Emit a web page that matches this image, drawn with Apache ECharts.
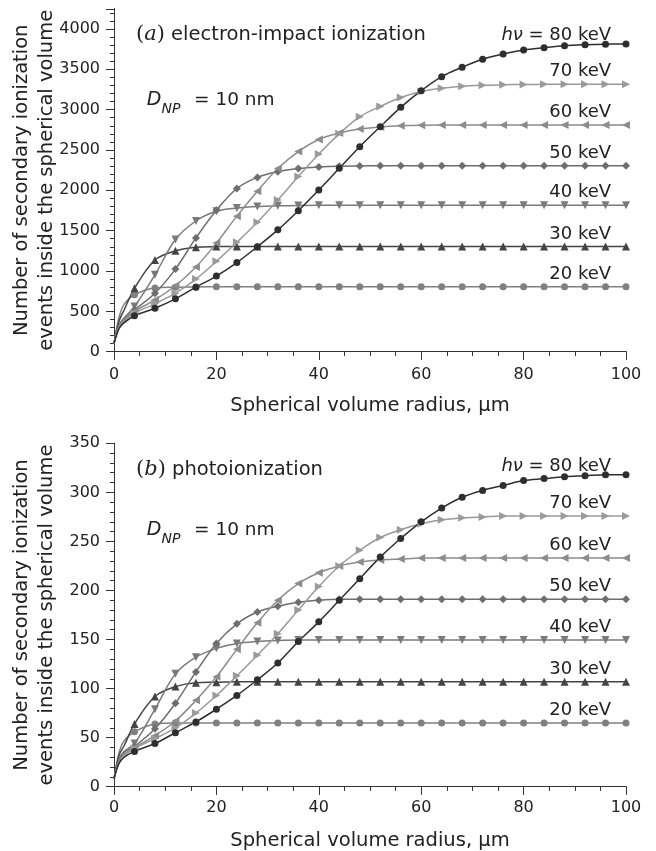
<!DOCTYPE html>
<html>
<head>
<meta charset="utf-8">
<script src="https://cdn.jsdelivr.net/npm/echarts@6/dist/echarts.min.js"></script>
<style>
  html, body { margin: 0; padding: 0; background: #fff; }
  #chart { width: 656px; height: 851px; }
</style>
</head>
<body>
<div id="chart"></div>
<script>
// spherical volume radius, um (first three points carry no marker)
var radius = [0, 1, 2, 4, 8, 12, 16, 20, 24, 28, 32, 36, 40, 44, 48, 52, 56, 60, 64, 68, 72, 76, 80, 84, 88, 92, 96, 100];

// (a) electron-impact ionization
var e20a = [100, 430, 590, 705, 790, 800, 803, 805, 805, 805, 805, 805, 805, 805, 805, 805, 805, 805, 805, 805, 805, 805, 805, 805, 805, 805, 805, 805];
var e30a = [100, 380, 520, 785, 1136, 1250, 1295, 1303, 1305, 1305, 1305, 1305, 1305, 1305, 1305, 1305, 1305, 1305, 1305, 1305, 1305, 1305, 1305, 1305, 1305, 1305, 1305, 1305];
var e40a = [100, 330, 420, 560, 953, 1390, 1620, 1740, 1780, 1800, 1808, 1812, 1815, 1815, 1815, 1815, 1815, 1815, 1815, 1815, 1815, 1815, 1815, 1815, 1815, 1815, 1815, 1815];
var e50a = [100, 320, 400, 518, 725, 1024, 1410, 1754, 2023, 2160, 2230, 2270, 2290, 2300, 2303, 2305, 2305, 2305, 2305, 2305, 2305, 2305, 2305, 2305, 2305, 2305, 2305, 2305];
var e60a = [100, 310, 390, 497, 643, 817, 1049, 1347, 1680, 1990, 2270, 2480, 2630, 2710, 2760, 2785, 2800, 2808, 2810, 2810, 2810, 2810, 2810, 2810, 2810, 2810, 2810, 2810];
var e70a = [100, 300, 375, 477, 593, 725, 900, 1120, 1356, 1605, 1880, 2170, 2450, 2700, 2913, 3040, 3150, 3225, 3265, 3290, 3302, 3308, 3312, 3314, 3315, 3315, 3315, 3315];
var e80a = [100, 290, 360, 445, 539, 655, 800, 938, 1105, 1302, 1510, 1748, 2004, 2273, 2541, 2789, 3029, 3235, 3409, 3525, 3624, 3690, 3739, 3768, 3793, 3805, 3812, 3815];

// (b) photoionization
var e20b = [8, 35, 47, 56, 64, 65, 65, 65, 65, 65, 65, 65, 65, 65, 65, 65, 65, 65, 65, 65, 65, 65, 65, 65, 65, 65, 65, 65];
var e30b = [8, 32, 42, 64, 92, 102, 106, 106.5, 107, 107, 107, 107, 107, 107, 107, 107, 107, 107, 107, 107, 107, 107, 107, 107, 107, 107, 107, 107];
var e40b = [8, 28, 36, 44, 79, 115, 132, 141, 146, 148, 149, 149.5, 149.5, 149.5, 149.5, 149.5, 149.5, 149.5, 149.5, 149.5, 149.5, 149.5, 149.5, 149.5, 149.5, 149.5, 149.5, 149.5];
var e50b = [8, 27, 35, 41, 59, 85, 117, 146, 166, 178, 184, 188, 190, 191, 191, 191, 191, 191, 191, 191, 191, 191, 191, 191, 191, 191, 191, 191];
var e60b = [8, 26, 33, 40, 52, 67, 88, 112, 140, 167, 190, 207, 218, 225, 229, 231, 232, 233, 233, 233, 233, 233, 233, 233, 233, 233, 233, 233];
var e70b = [8, 25, 31, 39, 49, 60, 75, 93, 113, 134, 156, 180, 204, 225, 241, 254, 262, 268, 272, 274, 275, 276, 276, 276, 276, 276, 276, 276];
var e80b = [8, 24, 30, 36, 44, 55, 66, 79, 93, 109, 126, 148, 168, 190, 212, 234, 253, 270, 284, 295, 302, 307, 312, 314, 316, 317, 318, 318];

var energyLabels = ['20 keV', '30 keV', '40 keV', '50 keV', '60 keV', '70 keV', '{i|h\u03bd} = 80 keV'];

var FONT = 'DejaVu Sans';
var TEXT = '#222';
var AXIS = '#333';

var chart = echarts.init(document.getElementById('chart'));

function makeSeries(values, panel, label, symbol, rotate, size, color, lift) {
    return {
        type: 'line',
        name: label,
        xAxisIndex: panel * 2,
        yAxisIndex: panel * 2,
        smooth: 0.35,
        symbol: symbol,
        symbolRotate: rotate,
        symbolSize: size,
        showAllSymbol: true,
        lineStyle: { color: color, width: 1.5 },
        itemStyle: { color: color },
        data: radius.map(function (r, i) {
            if (r < 4) {
                return { value: [r, values[i]], symbol: 'none' };
            }
            return [r, values[i]];
        }),
        markPoint: {
            silent: true,
            symbol: 'circle',
            symbolSize: 1,
            itemStyle: { color: 'rgba(0,0,0,0)' },
            data: [{ coord: [97.2, values[values.length - 1]] }],
            label: {
                show: true,
                position: [0, 0],
                align: 'right',
                verticalAlign: 'bottom',
                offset: [0, lift],
                formatter: label,
                color: TEXT,
                fontFamily: FONT,
                fontSize: 18,
                lineHeight: 18,
                rich: {
                    i: { fontFamily: FONT, fontStyle: 'italic', fontSize: 18, color: TEXT, lineHeight: 18 }
                }
            }
        }
    };
}

function xAxes(grid, labelMargin) {
    return [{
        type: 'value', gridIndex: grid, min: 0, max: 100, interval: 20,
        position: 'bottom',
        name: 'Spherical volume radius, \u03bcm',
        nameLocation: 'middle', nameGap: 44, nameMoveOverlap: false,
        nameTextStyle: { fontFamily: FONT, fontSize: 19.5, color: TEXT },
        axisLine: { lineStyle: { color: AXIS, width: 1 } },
        axisTick: { inside: false, length: 8, lineStyle: { color: AXIS } },
        minorTick: { show: true, splitNumber: 4, length: 4, lineStyle: { color: AXIS } },
        axisLabel: { fontFamily: FONT, fontSize: 16, color: TEXT, margin: labelMargin },
        splitLine: { show: false }
    }, {
        type: 'value', gridIndex: grid, min: 0, max: 100, interval: 20,
        position: 'top',
        axisLine: { lineStyle: { color: AXIS, width: 1 } },
        axisTick: { inside: true, length: 8, lineStyle: { color: AXIS } },
        minorTick: { show: true, splitNumber: 4, length: 4, lineStyle: { color: AXIS } },
        axisLabel: { show: false },
        splitLine: { show: false }
    }];
}

function yAxes(grid, max, interval) {
    return [{
        type: 'value', gridIndex: grid, min: 0, max: max, interval: interval,
        position: 'left',
        name: 'Number of secondary ionization\nevents inside the spherical volume',
        nameLocation: 'middle', nameGap: 55, nameRotate: 90, nameMoveOverlap: false,
        nameTextStyle: { fontFamily: FONT, fontSize: 19.5, color: TEXT, lineHeight: 25 },
        axisLine: { lineStyle: { color: AXIS, width: 1 } },
        axisTick: { inside: false, length: 8, lineStyle: { color: AXIS } },
        minorTick: { show: true, splitNumber: 5, length: 4, lineStyle: { color: AXIS } },
        axisLabel: {
            fontFamily: FONT, fontSize: 16, color: TEXT, margin: 14,
            showMaxLabel: max % interval === 0,
            formatter: function (v) { return String(v); }
        },
        splitLine: { show: false }
    }, {
        type: 'value', gridIndex: grid, min: 0, max: max, interval: interval,
        position: 'right',
        axisLine: { lineStyle: { color: AXIS, width: 1 } },
        axisTick: { inside: true, length: 8, lineStyle: { color: AXIS } },
        minorTick: { show: true, splitNumber: 5, length: 4, lineStyle: { color: AXIS } },
        axisLabel: { show: false },
        splitLine: { show: false }
    }];
}

function panelSeries(list, panel) {
    return [
        makeSeries(list[0], panel, energyLabels[0], 'circle', 0, 7, '#808080', -3),
        makeSeries(list[1], panel, energyLabels[1], 'triangle', 0, 8, '#444444', -3),
        makeSeries(list[2], panel, energyLabels[2], 'triangle', 180, 8, '#7a7a7a', -3),
        makeSeries(list[3], panel, energyLabels[3], 'diamond', 0, 8, '#6e6e6e', -3),
        makeSeries(list[4], panel, energyLabels[4], 'triangle', 90, 8, '#8c8c8c', -3),
        makeSeries(list[5], panel, energyLabels[5], 'triangle', -90, 8, '#9a9a9a', -3),
        makeSeries(list[6], panel, energyLabels[6], 'circle', 0, 7, '#2e2e2e', 1)
    ];
}

function panelText(title, letter, cy, dy) {
    return [{
        type: 'text', x: 136, y: cy,
        style: {
            text: '{p|(}{a|' + letter + '}{p|)}{t| ' + title + '}',
            verticalAlign: 'middle',
            rich: {
                p: { fontFamily: 'DejaVu Serif', fontSize: 21, fill: TEXT, color: TEXT },
                a: { fontFamily: 'DejaVu Serif', fontStyle: 'italic', fontSize: 21, fill: TEXT, color: TEXT },
                t: { fontFamily: FONT, fontSize: 19.5, fill: TEXT, color: TEXT }
            }
        }
    }, {
        type: 'text', x: 146.7, y: dy,
        style: { text: 'D', font: 'italic 19px "DejaVu Sans"', fill: TEXT, verticalAlign: 'middle' }
    }, {
        type: 'text', x: 161.5, y: dy + 9,
        style: { text: 'NP', font: 'italic 14px "DejaVu Sans"', fill: TEXT, verticalAlign: 'middle' }
    }, {
        type: 'text', x: 194, y: dy,
        style: { text: '= 10 nm', font: '18.5px "DejaVu Sans"', fill: TEXT, verticalAlign: 'middle' }
    }];
}

var option = {
    animation: false,
    backgroundColor: '#fff',
    grid: [
        { left: 114, right: 30, top: 8.8, height: 342.9, outerBoundsMode: 'none', containLabel: false },
        { left: 114, right: 30, top: 443.3, height: 343.4, outerBoundsMode: 'none', containLabel: false }
    ],
    xAxis: xAxes(0, 15).concat(xAxes(1, 13)),
    yAxis: yAxes(0, 4250, 500).concat(yAxes(1, 350, 50)),
    series: panelSeries([e20a, e30a, e40a, e50a, e60a, e70a, e80a], 0)
        .concat(panelSeries([e20b, e30b, e40b, e50b, e60b, e70b, e80b], 1)),
    graphic: panelText('electron-impact ionization', 'a', 35, 100)
        .concat(panelText('photoionization', 'b', 470, 530))
};

chart.setOption(option);
</script>
</body>
</html>
